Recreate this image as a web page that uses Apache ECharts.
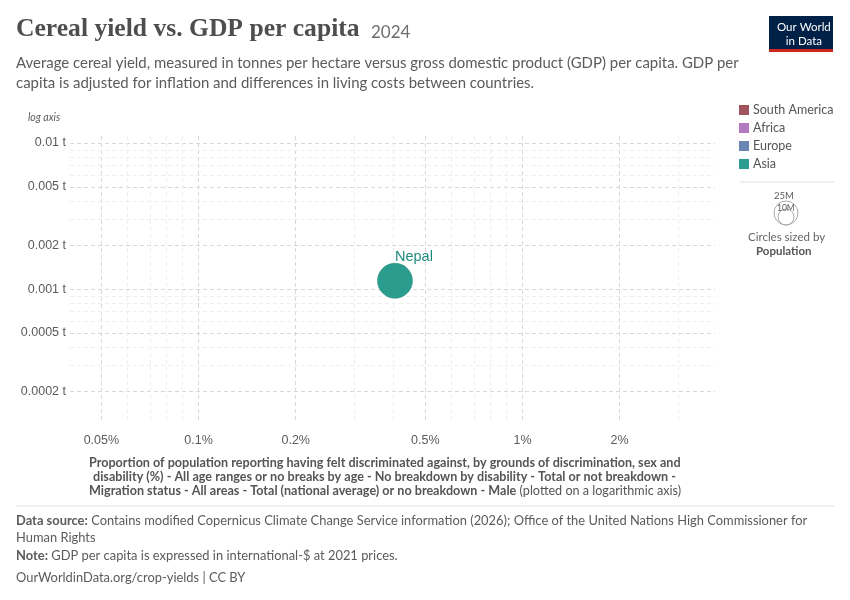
<!DOCTYPE html><html><head><meta charset="utf-8"><script src="https://cdn.jsdelivr.net/npm/echarts@6/dist/echarts.min.js"></script>
<style>body{margin:0;font-family:Lato,sans-serif}#c{width:850px;height:600px}</style></head><body><div id="c"></div><script>
const countries=['Nepal'];
const xValues=[0.404];
const yValues=[0.00114];
const xTicks=[0.05,0.1,0.2,0.5,1,2];
const xTickLabels=['0.05%','0.1%','0.2%','0.5%','1%','2%'];
const yTicks=[0.01,0.005,0.002,0.001,0.0005,0.0002];
const yTickLabels=['0.01 t','0.005 t','0.002 t','0.001 t','0.0005 t','0.0002 t'];
const legendNames=['South America','Africa','Europe','Asia'];
const legendColors=['#a2555f','#b379c1','#6c86b3','#2a9d8f'];
const xMin=0.0401,xMax=3.93,yMin=0.000127,yMax=0.0117;
const L=Math.log10;
function minors(lo,hi){const r=[];for(let d=-6;d<3;d++)for(let k=1;k<10;k++){const v=k*Math.pow(10,d);if(v>lo&&v<hi)r.push(v);}return r;}
const grid='#d8d8d8';
const xMinor=minors(xMin,xMax).filter(v=>!xTicks.some(t=>Math.abs(t-v)/v<1e-6));
const yMinor=minors(yMin,yMax).filter(v=>!yTicks.some(t=>Math.abs(t-v)/v<1e-6));
const mlData=[];
xTicks.forEach((v,i)=>mlData.push({xAxis:L(v),lineStyle:{color:grid,type:[4,3],width:1},label:{show:true,position:'start',formatter:xTickLabels[i],color:'#5b5b5b',fontSize:12.5,distance:14}}));
yTicks.forEach((v,i)=>mlData.push({yAxis:L(v),lineStyle:{color:grid,type:[4,3],width:1},label:{show:true,position:'start',formatter:yTickLabels[i],color:'#5b5b5b',fontSize:12.5,distance:4}}));
xMinor.forEach(v=>mlData.push({xAxis:L(v),lineStyle:{color:'#eeeeee',type:[4,3],width:1},label:{show:false}}));
yMinor.forEach(v=>mlData.push({yAxis:L(v),lineStyle:{color:'#eeeeee',type:[4,3],width:1},label:{show:false}}));
const ch=echarts.init(document.getElementById('c'));
const T=(x,y,text,style)=>({type:'text',left:x,top:y,style:Object.assign({text,fontFamily:'Lato',fill:'#5b5b5b',fontSize:13},style)});
const g=[
 T(16,16,'Cereal yield vs. GDP per capita',{fontFamily:'Liberation Serif, serif',fontSize:25.6,fontWeight:'bold',fill:'#4e4e4e'}),
 T(371,24,'2024',{fontSize:17,fill:'#6e6e6e'}),
 T(16,53,'Average cereal yield, measured in tonnes per hectare versus gross domestic product (GDP) per capita. GDP per\ncapita is adjusted for inflation and differences in living costs between countries.',{fontSize:14.95,lineHeight:20,fill:'#5b5b5b'}),
 {type:'rect',left:769,top:16,shape:{width:64,height:36},style:{fill:'#002147'}},
 {type:'rect',left:769,top:49,shape:{width:64,height:3},style:{fill:'#ce261e'}},
 T(777,20,'Our World\n   in Data',{fontSize:11.5,fill:'#fff',lineHeight:14}),
 T(28,112,'log axis',{fontSize:10.5,fontStyle:'italic'}),
 T(89,456,'Proportion of population reporting having felt discriminated against, by grounds of discrimination, sex and',{fontSize:12.6,fontWeight:'bold',fill:'#555'}),
 T(93,470,'disability (%) - All age ranges or no breaks by age - No breakdown by disability - Total or not breakdown -',{fontSize:12.6,fontWeight:'bold',fill:'#555'}),
 {type:'text',left:89,top:484,style:{rich:{b:{fontFamily:'Lato',fontSize:12.6,fontWeight:'bold',fill:'#555'},n:{fontFamily:'Lato',fontSize:12.6,fill:'#555'}},text:'{b|Migration status - All areas - Total (national average) or no breakdown - Male} {n|(plotted on a logarithmic axis)}'}},
 {type:'line',shape:{x1:16,y1:506,x2:834,y2:506},style:{stroke:'#e0e0e0'}},
 {type:'text',left:16,top:514,style:{rich:{b:{fontFamily:'Lato',fontSize:12.9,fontWeight:'bold',fill:'#5b5b5b'},n:{fontFamily:'Lato',fontSize:12.9,fill:'#5b5b5b'}},text:'{b|Data source:} {n|Contains modified Copernicus Climate Change Service information (2026); Office of the United Nations High Commissioner for}'}},
 T(16,531,'Human Rights',{fontSize:12.9}),
 {type:'text',left:16,top:549,style:{rich:{b:{fontFamily:'Lato',fontSize:12.9,fontWeight:'bold',fill:'#5b5b5b'},n:{fontFamily:'Lato',fontSize:12.9,fill:'#5b5b5b'}},text:'{b|Note:} {n|GDP per capita is expressed in international-$ at 2021 prices.}'}},
 T(16,571,'OurWorldinData.org/crop-yields | CC BY',{fontSize:12.9}),
 {type:'line',shape:{x1:740,y1:182,x2:834,y2:182},style:{stroke:'#e0e0e0'}},
 {type:'circle',shape:{cx:786,cy:213,r:12},style:{fill:'none',stroke:'#aaa'}},
 {type:'circle',shape:{cx:786,cy:217,r:8},style:{fill:'none',stroke:'#aaa'}},
 T(774,191,'25M',{fontSize:9.5}),T(777,204,'10M',{fontSize:8.5}),
 T(748,231,'Circles sized by',{fontSize:11.5,fill:'#666'}),
 T(756,245,'Population',{fontSize:11.5,fontWeight:'bold',fill:'#555'})
];
legendNames.forEach((n,i)=>{g.push({type:'rect',left:739,top:105+i*18,shape:{width:10,height:10},style:{fill:legendColors[i]}});g.push(T(753,103+i*18,n,{fontSize:12.5,fill:'#555'}));});
ch.setOption({animation:false,graphic:g,
 grid:{left:70,right:135,top:133,bottom:180},
 xAxis:{type:'value',min:L(xMin),max:L(xMax),axisLabel:{show:false},axisTick:{show:false},axisLine:{show:false},splitLine:{show:false}},
 yAxis:{type:'value',min:L(yMin),max:L(yMax),axisLabel:{show:false},axisTick:{show:false},axisLine:{show:false},splitLine:{show:false}},
 series:[
  {type:'line',data:[],z:1,markLine:{silent:true,symbol:'none',animation:false,data:mlData}},
  {type:'scatter',z:5,data:xValues.map((x,i)=>({value:[L(x),L(yValues[i])],name:countries[i]})),symbolSize:35,
  itemStyle:{color:'#2a9d8f',opacity:1,borderColor:'#238277',borderWidth:0.5},
  label:{show:true,position:'top',offset:[19,4],formatter:'{b}',color:'#1f8a7e',fontSize:14.5,distance:3}}]});
</script></body></html>
